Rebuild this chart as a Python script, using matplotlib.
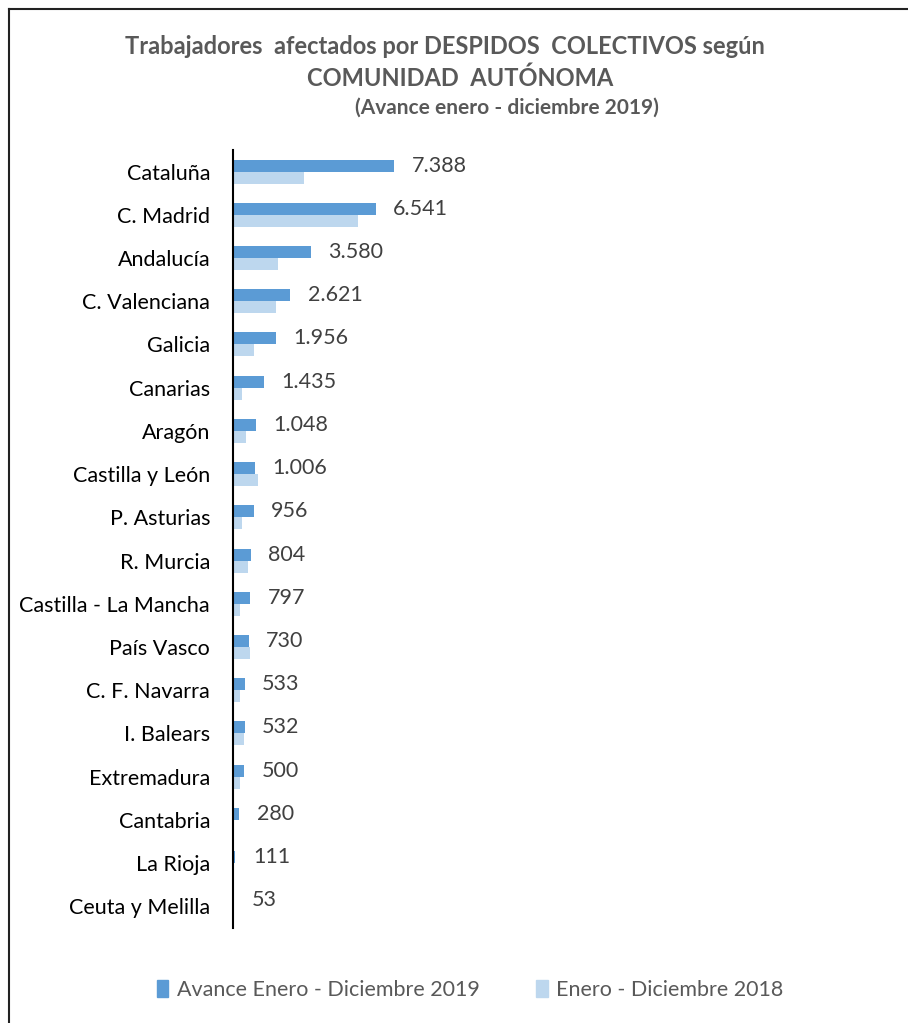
import matplotlib
matplotlib.use("Agg")
import matplotlib.pyplot as plt
from matplotlib.lines import Line2D
from matplotlib.patches import Patch

regiones = [
    "Cataluña", "C. Madrid", "Andalucía", "C. Valenciana", "Galicia", "Canarias",
    "Aragón", "Castilla y León", "P. Asturias", "R. Murcia", "Castilla - La Mancha",
    "País Vasco", "C. F. Navarra", "I. Balears", "Extremadura", "Cantabria",
    "La Rioja", "Ceuta y Melilla",
]
avance_2019 = [7388, 6541, 3580, 2621, 1956, 1435, 1048, 1006, 956, 804, 797,
               730, 533, 532, 500, 280, 111, 53]
# 2018 values (no labels in the original)
enero_dic_2018 = [3260, 5730, 2070, 1980, 960, 410, 600, 1150, 410, 690, 320,
                  800, 320, 520, 320, 40, 40, 10]

COLOR_2019 = "#5B9BD5"
COLOR_2018 = "#BDD7EE"
FONT = ["Lato", "DejaVu Sans"]

plt.rcParams["font.family"] = FONT

fig = plt.figure(figsize=(9.08, 10.23), dpi=100)
ax = fig.add_axes([0.2566, 0.0929, 0.72, 0.7605])

n = len(regiones)
pos = list(range(n))
bar_h = 0.277
ax.barh([p - bar_h / 2 for p in pos], avance_2019, height=bar_h, color=COLOR_2019)
ax.barh([p + bar_h / 2 for p in pos], enero_dic_2018, height=bar_h, color=COLOR_2018)

for p, v in zip(pos, avance_2019):
    txt = f"{v:,}".replace(",", ".")
    ax.text(v + 800, p - bar_h / 2, txt, va="center", ha="left",
            fontsize=15.5, color="#404040")

ax.set_ylim(n - 0.5, -0.5)
ax.set_xlim(0, 30000)
ax.set_yticks(pos)
ax.set_yticklabels(regiones, fontsize=15.5, color="#000000")
ax.tick_params(axis="y", length=0, pad=16.5)
ax.set_xticks([])
for side in ["top", "right", "bottom"]:
    ax.spines[side].set_visible(False)
ax.spines["left"].set_linewidth(1.5)
ax.spines["left"].set_color("black")

# Title
title_color = "#595959"
fig.text(445 / 908, 1 - 46 / 1023, "Trabajadores  afectados por DESPIDOS  COLECTIVOS según",
         ha="center", va="center", fontsize=17, fontweight="bold", color=title_color)
fig.text(460 / 908, 1 - 78 / 1023, "COMUNIDAD  AUTÓNOMA",
         ha="center", va="center", fontsize=17, fontweight="bold", color=title_color)
fig.text(507 / 908, 1 - 108 / 1023, "(Avance enero - diciembre 2019)",
         ha="center", va="center", fontsize=15, fontweight="bold", color=title_color)

# Legend
handles = [Patch(color=COLOR_2019), Patch(color=COLOR_2018)]
fig.legend(handles, ["Avance Enero - Diciembre 2019", "Enero - Diciembre 2018"],
           loc="center", bbox_to_anchor=(470 / 908, 1 - 990 / 1023), ncol=2,
           frameon=False, fontsize=15.5, handlelength=0.55, handleheight=0.85,
           handletextpad=0.4, columnspacing=2.6, labelcolor="#595959")

# Chart frame (left and top edges visible)
fig.add_artist(Line2D([9 / 908, 9 / 908], [0, 1 - 9 / 1023], transform=fig.transFigure,
                      color="#222222", linewidth=1.5))
fig.add_artist(Line2D([9 / 908, 1], [1 - 9 / 1023, 1 - 9 / 1023], transform=fig.transFigure,
                      color="#222222", linewidth=1.5))

fig.savefig("out.png", dpi=100)
